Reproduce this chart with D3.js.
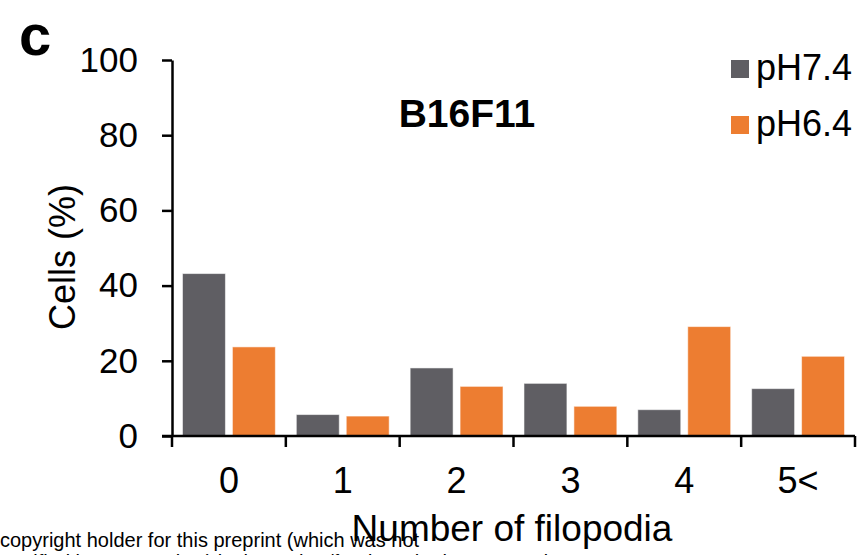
<!DOCTYPE html>
<html>
<head>
<meta charset="utf-8">
<script src="https://cdn.jsdelivr.net/npm/d3@7/dist/d3.min.js"></script>
<style>
  html, body { margin: 0; padding: 0; background: #fff; }
  svg { display: block; font-family: "Liberation Sans", Arial, sans-serif; }
</style>
</head>
<body>
<svg id="chart" width="865" height="555"></svg>
<script>
// Share of B16F11 cells by number of filopodia, at two pH values
const categories = ["0", "1", "2", "3", "4", "5<"];
const seriesNames = ["pH7.4", "pH6.4"];
const ph74 = [43.2, 5.7, 18.1, 14.0, 7.0, 12.6];
const ph64 = [23.7, 5.3, 13.2, 7.9, 29.1, 21.2];
const yTicks = [0, 20, 40, 60, 80, 100];
const colors = ["#5f5e63", "#ed7d31"];

const svg = d3.select("#chart");
const plot = { left: 172, right: 855, top: 60, bottom: 436 };

const x0 = d3.scaleBand().domain(categories).range([plot.left, plot.right]).padding(0);
const x1 = d3.scaleBand().domain(seriesNames)
  .range([0, x0.bandwidth()]).paddingInner(0.14).paddingOuter(0.21);
const y = d3.scaleLinear().domain([0, 100]).range([plot.bottom, plot.top]);
const color = d3.scaleOrdinal().domain(seriesNames).range(colors);

const rows = categories.map((c, i) => ({
  cat: c,
  values: [{ s: seriesNames[0], v: ph74[i] }, { s: seriesNames[1], v: ph64[i] }]
}));

// bars
svg.append("g").selectAll("g").data(rows).join("g")
  .attr("transform", d => `translate(${x0(d.cat)},0)`)
  .selectAll("rect").data(d => d.values).join("rect")
  .attr("x", d => x1(d.s))
  .attr("y", d => y(d.v))
  .attr("width", x1.bandwidth())
  .attr("height", d => y(0) - y(d.v))
  .attr("fill", d => color(d.s))
  .attr("stroke", "#ffffff")
  .attr("stroke-opacity", 0.55)
  .attr("stroke-width", 1);

// y axis
const yAxis = svg.append("g")
  .attr("transform", `translate(${plot.left},0)`)
  .call(d3.axisLeft(y).tickValues(yTicks).tickSize(10).tickSizeOuter(0).tickPadding(24));
yAxis.select(".domain").attr("stroke", "#000").attr("stroke-width", 2.5);
yAxis.selectAll(".tick line").attr("stroke", "#000").attr("stroke-width", 2.5);
yAxis.selectAll(".tick text")
  .attr("font-size", 35).attr("fill", "#000")
  .attr("font-family", "Liberation Sans, Arial, sans-serif");

// x axis: baseline with ticks at the category boundaries
const xAxis = svg.append("g").attr("transform", `translate(0,${plot.bottom})`);
xAxis.append("line")
  .attr("x1", plot.left - 10).attr("x2", plot.right)
  .attr("stroke", "#000").attr("stroke-width", 2.5);
const bounds = categories.map(c => x0(c)).concat([plot.right]);
xAxis.selectAll("line.tk").data(bounds).join("line")
  .attr("class", "tk")
  .attr("x1", d => d).attr("x2", d => d)
  .attr("y1", 0).attr("y2", 11)
  .attr("stroke", "#000").attr("stroke-width", 2.5);
xAxis.selectAll("text").data(categories).join("text")
  .attr("x", d => x0(d) + x0.bandwidth() / 2)
  .attr("y", 57)
  .attr("text-anchor", "middle")
  .attr("font-size", 36)
  .text(d => d);

// axis titles
svg.append("text")
  .attr("transform", "translate(75,257) rotate(-90)")
  .attr("text-anchor", "middle")
  .attr("font-size", 36)
  .text("Cells (%)");
svg.append("text")
  .attr("x", 512).attr("y", 541)
  .attr("text-anchor", "middle")
  .attr("font-size", 37)
  .text("Number of filopodia");

// chart title and panel letter
svg.append("text")
  .attr("x", 467).attr("y", 127)
  .attr("text-anchor", "middle")
  .attr("font-size", 39).attr("font-weight", "bold")
  .text("B16F11");
svg.append("text")
  .attr("x", 19).attr("y", 55)
  .attr("font-size", 58).attr("font-weight", "bold")
  .text("c");

// legend
const legend = svg.append("g").selectAll("g").data(seriesNames).join("g")
  .attr("transform", (d, i) => `translate(731,${60 + i * 56})`);
legend.append("rect")
  .attr("width", 18).attr("height", 18)
  .attr("fill", d => color(d));
legend.append("text")
  .attr("x", 25).attr("y", 20)
  .attr("font-size", 36)
  .text(d => d);

// preprint notice running along the bottom edge
const note = svg.append("g").attr("font-size", 20).attr("fill", "#000");
note.append("text").attr("x", 0).attr("y", 547)
  .text("copyright holder for this preprint (which was not");
note.append("text").attr("x", 0).attr("y", 569)
  .text("certified by peer review) is the author/funder, who has granted");
</script>
</body>
</html>
